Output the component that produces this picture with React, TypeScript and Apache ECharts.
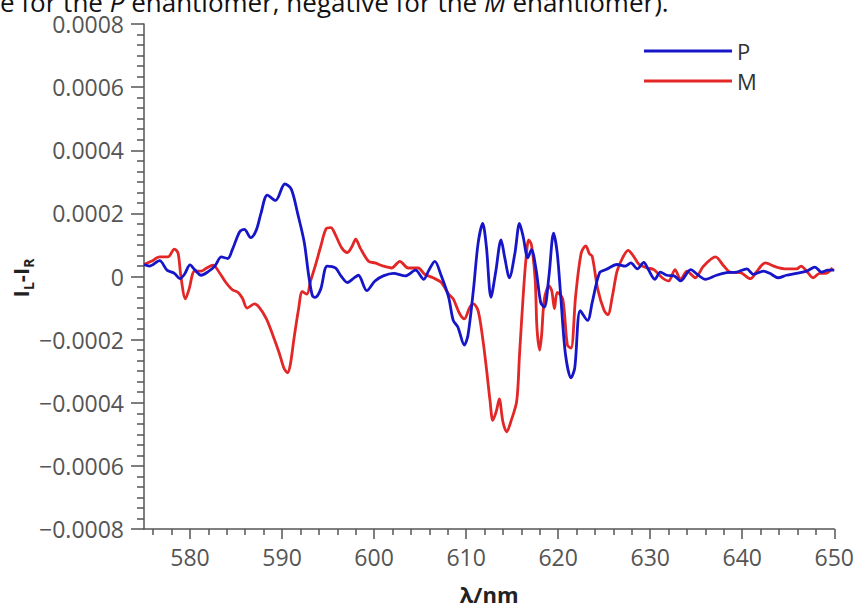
import React, { useEffect, useRef } from "react";
import * as echarts from "echarts";

const pWavelength = [575.0,575.6,576.7,577.5,578.3,578.9,579.4,580.0,580.5,581.2,581.9,582.7,583.4,584.1,584.6,585.4,585.9,586.6,587.2,587.7,588.4,589.3,590.3,591.0,591.7,592.4,592.9,593.3,593.6,594.2,594.9,595.8,596.4,597.1,597.8,598.3,599.2,600.1,601.0,602.1,603.4,604.5,605.4,605.9,606.6,607.3,608.1,608.6,609.1,609.8,610.2,610.8,611.3,611.8,612.2,612.7,613.2,613.8,614.2,614.7,615.3,615.8,616.2,616.7,617.1,617.6,618.1,618.5,619.0,619.5,619.9,620.3,620.8,621.4,621.8,622.4,623.2,623.7,624.5,625.2,626.4,627.3,627.9,628.6,629.3,629.8,630.5,631.1,631.8,632.6,633.3,634.4,635.1,636.0,637.2,638.3,639.4,640.5,641.2,642.3,643.0,643.9,644.8,645.9,647.0,647.9,648.6,649.3,650.0];
const pValues = [3.8e-5,3.3e-5,5.0e-5,2.0e-5,1.0e-5,-0.7e-5,0.7e-5,3.7e-5,2.2e-5,0.4e-5,1.4e-5,3.3e-5,6.2e-5,5.7e-5,8.5e-5,14.2e-5,14.9e-5,12.3e-5,14.7e-5,19.9e-5,25.8e-5,24.1e-5,29.3e-5,27.7e-5,19.9e-5,11.0e-5,0.2e-5,-6.1e-5,-6.6e-5,-4.0e-5,3.3e-5,2.7e-5,0.2e-5,-1.9e-5,-0.5e-5,0.4e-5,-4.5e-5,-1.4e-5,0.2e-5,1.0e-5,0.2e-5,2.0e-5,-0.9e-5,1.7e-5,4.8e-5,0.2e-5,-6.6e-5,-13.9e-5,-16.0e-5,-21.7e-5,-18.6e-5,-4.0e-5,10.5e-5,16.8e-5,9.5e-5,-6.6e-5,1.2e-5,11.6e-5,5.9e-5,-0.4e-5,7.4e-5,16.8e-5,12.6e-5,5.9e-5,8.5e-5,2.2e-5,-8.2e-5,-9.7e-5,0.2e-5,13.7e-5,7.4e-5,-7.1e-5,-24.8e-5,-32.1e-5,-29.0e-5,-10.8e-5,-13.9e-5,-8.2e-5,1.2e-5,2.2e-5,3.8e-5,3.3e-5,4.3e-5,2.4e-5,4.5e-5,2.2e-5,-0.9e-5,1.4e-5,0.4e-5,0.2e-5,-1.4e-5,2.2e-5,0.7e-5,-0.9e-5,0.4e-5,1.2e-5,1.4e-5,2.4e-5,0.7e-5,1.7e-5,1.0e-5,-0.4e-5,0.4e-5,1.0e-5,1.7e-5,3.0e-5,1.4e-5,2.0e-5,2.0e-5];

const mWavelength = [575.0,575.8,576.7,577.6,578.3,578.7,579.0,579.5,579.9,580.5,581.2,581.8,582.5,583.2,583.9,584.6,585.2,585.7,586.2,587.0,587.5,588.3,589.0,589.7,590.2,590.6,590.9,591.3,591.8,592.2,592.7,593.1,593.6,594.2,594.8,595.3,595.8,596.5,597.1,597.6,598.0,598.5,599.4,600.1,601.0,601.9,602.8,603.7,604.8,605.5,606.4,607.3,608.1,608.6,609.3,609.8,610.4,610.8,611.3,611.8,612.2,612.6,612.9,613.3,613.6,614.0,614.4,614.9,615.5,615.8,616.2,616.5,616.8,617.1,617.5,617.7,618.0,618.2,618.5,619.0,619.3,619.6,619.9,620.5,621.0,621.4,621.9,622.5,623.0,623.4,623.7,624.3,625.0,625.4,625.9,626.4,627.0,627.6,628.2,628.8,629.7,630.4,631.3,632.0,632.7,633.3,634.0,634.9,635.8,637.1,638.0,638.7,639.8,640.9,641.6,642.5,643.6,644.8,645.9,646.4,647.0,647.7,648.4,649.1,649.8];
const mValues = [3.8e-5,4.8e-5,6.2e-5,6.2e-5,8.7e-5,7.4e-5,0.2e-5,-7.1e-5,-4.0e-5,1.7e-5,1.7e-5,2.7e-5,3.6e-5,1.2e-5,-1.9e-5,-4.2e-5,-5.0e-5,-6.9e-5,-10.0e-5,-8.7e-5,-9.7e-5,-13.4e-5,-18.6e-5,-24.3e-5,-29.0e-5,-30.5e-5,-27.9e-5,-19.6e-5,-10.2e-5,-4.8e-5,-5.6e-5,-1.4e-5,3.3e-5,9.5e-5,15.2e-5,15.5e-5,13.2e-5,9.0e-5,7.6e-5,9.5e-5,11.8e-5,9.0e-5,4.8e-5,4.3e-5,3.3e-5,2.7e-5,4.8e-5,2.7e-5,2.7e-5,0.7e-5,-0.4e-5,-1.9e-5,-5.6e-5,-7.1e-5,-11.8e-5,-13.4e-5,-9.7e-5,-8.7e-5,-10.8e-5,-19.6e-5,-29.0e-5,-39.4e-5,-45.6e-5,-42.5e-5,-38.8e-5,-46.1e-5,-49.2e-5,-45.6e-5,-39.4e-5,-24.8e-5,-6.1e-5,5.4e-5,11.6e-5,10.0e-5,-0.9e-5,-16.5e-5,-23.3e-5,-18.6e-5,-7.1e-5,-3.0e-5,-4.5e-5,-10.2e-5,-5.0e-5,-7.1e-5,-21.7e-5,-22.7e-5,-6.1e-5,7.4e-5,9.7e-5,7.2e-5,6.4e-5,-4.0e-5,-10.8e-5,-12.1e-5,-6.1e-5,1.7e-5,5.9e-5,8.3e-5,6.4e-5,3.8e-5,2.7e-5,2.2e-5,-0.4e-5,-1.4e-5,2.2e-5,-0.9e-5,1.7e-5,-0.4e-5,3.3e-5,6.2e-5,3.3e-5,1.4e-5,1.2e-5,-0.7e-5,1.7e-5,4.3e-5,3.1e-5,2.4e-5,2.4e-5,3.3e-5,1.7e-5,-0.4e-5,1.0e-5,1.0e-5,2.7e-5];

const xMajorTicks = [580, 590, 600, 610, 620, 630, 640, 650];
const xMinorTicks = [576, 578, 582, 584, 586, 588, 592, 594, 596, 598, 602, 604, 606, 608, 612, 614, 616, 618, 622, 624, 626, 628, 632, 634, 636, 638, 642, 644, 646, 648];
const seriesNames = ["P", "M"];

const AXIS_COLOR = "#555";
const LABEL_COLOR = "#555";
const FONT = "'Open Sans', 'Noto Sans', sans-serif";

function pairs(xs: number[], ys: number[]) {
  return xs.map((x, i) => [x, ys[i]]);
}

function yFmt(v: number) {
  if (Math.abs(v) < 1e-12) return "0";
  return (v < 0 ? "\u2212" : "") + Math.abs(v).toFixed(4);
}

export default function App() {
  const ref = useRef<HTMLDivElement>(null);
  useEffect(() => {
    document.body.style.margin = "0";
    const chart = echarts.init(ref.current!, undefined, { renderer: "svg" });
    chart.setOption({
      animation: false,
      backgroundColor: "#fff",
      textStyle: { fontFamily: FONT },
      grid: { left: 144, right: 19, top: 24, bottom: 73 },
      legend: {
        data: seriesNames,
        orient: "vertical",
        left: 644,
        top: 40,
        padding: 0,
        icon: "rect",
        itemWidth: 88,
        itemHeight: 3,
        itemGap: 8,
        textStyle: { fontSize: 22, color: "#333", fontFamily: FONT },
      },
      xAxis: [
        {
          type: "value",
          min: 575,
          max: 650,
          position: "bottom",
          name: "λ/nm",
          nameLocation: "middle",
          nameGap: 54,
          nameTextStyle: { fontSize: 22, fontWeight: "bold", color: "#222", fontFamily: FONT },
          splitLine: { show: false },
          axisLine: { show: true, onZero: false, lineStyle: { color: AXIS_COLOR, width: 1.5 } },
          axisTick: { show: true, inside: false, length: 10, customValues: xMajorTicks, lineStyle: { color: AXIS_COLOR, width: 1.5 } },
          axisLabel: { customValues: xMajorTicks, margin: 16, fontSize: 23, color: LABEL_COLOR, fontFamily: FONT },
        },
        {
          type: "value",
          min: 575,
          max: 650,
          position: "bottom",
          gridIndex: 0,
          splitLine: { show: false },
          axisLine: { show: false, onZero: false },
          axisLabel: { show: false },
          axisTick: { show: true, length: 6, customValues: xMinorTicks, lineStyle: { color: AXIS_COLOR, width: 1.5 } },
        },
      ],
      yAxis: {
        type: "value",
        min: -0.0008,
        max: 0.0008,
        interval: 0.0002,
        splitLine: { show: false },
        axisLine: { show: true, onZero: false, lineStyle: { color: AXIS_COLOR, width: 1.5 } },
        axisTick: { show: true, length: 13, lineStyle: { color: AXIS_COLOR, width: 1.5 } },
        minorTick: { show: true, splitNumber: 6, length: 7, lineStyle: { color: AXIS_COLOR, width: 1.5 } },
        axisLabel: { formatter: yFmt, margin: 20, fontSize: 23, color: LABEL_COLOR, fontFamily: FONT },
      },
      series: [
        {
          name: seriesNames[0],
          type: "line",
          data: pairs(pWavelength, pValues),
          showSymbol: false,
          symbol: "none",
          smooth: 0.3,
          lineStyle: { color: "#1616c8", width: 2.8 },
          itemStyle: { color: "#1616c8" },
          z: 3,
        },
        {
          name: seriesNames[1],
          type: "line",
          data: pairs(mWavelength, mValues),
          showSymbol: false,
          symbol: "none",
          smooth: 0.3,
          lineStyle: { color: "#e32626", width: 2.8 },
          itemStyle: { color: "#e32626" },
          z: 2,
        },
      ],
      graphic: [
        {
          type: "text",
          x: 0,
          y: 15,
          style: {
            text: "{n|e for the }{i|P}{n| enantiomer, negative for the }{i|M}{n| enantiomer).}",
            verticalAlign: "bottom",
            rich: {
              n: { fontSize: 26, fontFamily: FONT, fill: "#111" },
              i: { fontSize: 26, fontFamily: FONT, fontStyle: "italic", fill: "#111" },
            },
          },
        },
        {
          type: "text",
          x: 22,
          y: 278,
          rotation: Math.PI / 2,
          style: {
            text: "{b|I}{s|L}{b|-I}{s|R}",
            align: "center",
            verticalAlign: "middle",
            rich: {
              b: { fontSize: 22, fontWeight: "bold", fontFamily: FONT, fill: "#222", lineHeight: 26, verticalAlign: "top" },
              s: { fontSize: 14, fontWeight: "bold", fontFamily: FONT, fill: "#222", lineHeight: 26, verticalAlign: "bottom" },
            },
          },
        },
      ],
    });
    return () => chart.dispose();
  }, []);
  return <div ref={ref} style={{ width: 857, height: 610, position: "absolute", left: 0, top: 0 }} />;
}
